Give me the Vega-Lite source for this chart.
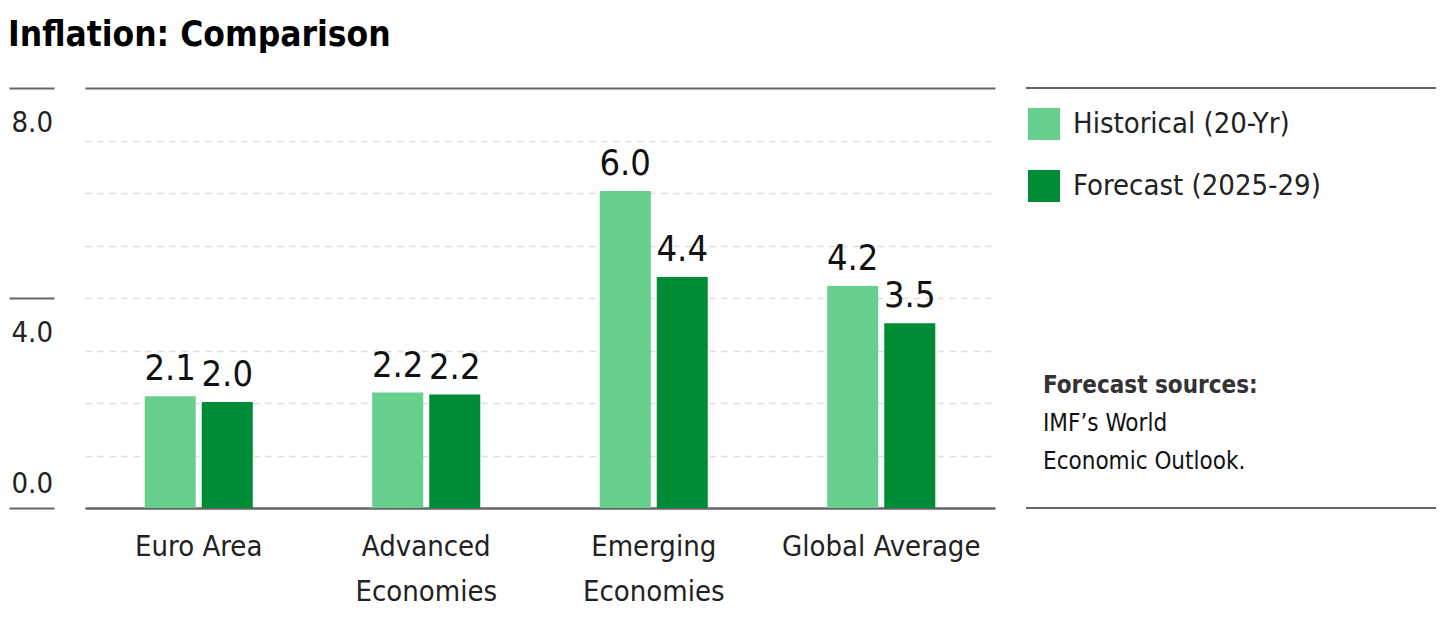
{
  "$schema": "https://vega.github.io/schema/vega-lite/v6.json",
  "padding": {"left": 8, "top": 18, "right": 0, "bottom": 0},
  "title": {
    "text": "Inflation: Comparison",
    "anchor": "start",
    "frame": "bounds",
    "fontSize": 35,
    "fontWeight": "bold",
    "color": "#000000",
    "baseline": "alphabetic",
    "offset": 6
  },
  "config": {
    "view": {"stroke": null},
    "font": "'DejaVu Sans Condensed', 'DejaVu Sans', sans-serif"
  },
  "hconcat": [
    {
      "width": 910,
      "height": 420,
      "data": {
        "values": [
          {"region": "Euro Area", "series": "Historical (20-Yr)", "value": 2.13},
          {"region": "Euro Area", "series": "Forecast (2025-29)", "value": 2.02},
          {"region": "Advanced Economies", "series": "Historical (20-Yr)", "value": 2.2},
          {"region": "Advanced Economies", "series": "Forecast (2025-29)", "value": 2.16},
          {"region": "Emerging Economies", "series": "Historical (20-Yr)", "value": 6.04},
          {"region": "Emerging Economies", "series": "Forecast (2025-29)", "value": 4.4},
          {"region": "Global Average", "series": "Historical (20-Yr)", "value": 4.23},
          {"region": "Global Average", "series": "Forecast (2025-29)", "value": 3.52}
        ]
      },
      "encoding": {
        "x": {
          "field": "region",
          "type": "nominal",
          "sort": null,
          "scale": {"paddingInner": 0.525, "paddingOuter": 0.2625},
          "axis": {
            "title": null,
            "ticks": false,
            "tickSize": 0,
            "domainColor": "#666666",
            "domainWidth": 2.5,
            "labelAngle": 0,
            "labelFontSize": 29,
            "labelColor": "#222222",
            "labelPadding": 24,
            "labelLimit": 400,
            "labelLineHeight": 45,
            "labelExpr": "indexof(datum.label, 'Economies') > 0 ? split(datum.label, ' ') : datum.label"
          }
        },
        "xOffset": {
          "field": "series",
          "type": "nominal",
          "sort": ["Historical (20-Yr)", "Forecast (2025-29)"],
          "scale": {"paddingInner": 0.105, "paddingOuter": 0}
        },
        "y": {
          "field": "value",
          "type": "quantitative",
          "scale": {"domain": [0, 8], "nice": false},
          "axis": {
            "title": null,
            "values": [0, 1, 2, 3, 4, 5, 6, 7, 8],
            "domain": false,
            "offset": 31,
            "tickSize": 45,
            "tickWidth": 2,
            "tickColor": {"condition": {"test": "datum.value % 4 === 0", "value": "#666666"}, "value": "transparent"},
            "grid": true,
            "gridColor": {"condition": {"test": "datum.value === 8", "value": "#666666"}, "value": "#dddddd"},
            "gridDash": {"condition": {"test": "datum.value === 8", "value": []}, "value": [6, 6]},
            "gridWidth": {"condition": {"test": "datum.value === 8", "value": 2}, "value": 1.5},
            "labelExpr": "datum.value % 4 === 0 ? format(datum.value, '.1f') : ''",
            "labelAlign": "left",
            "labelBaseline": "alphabetic",
            "labelPadding": -2,
            "labelOffset": {"condition": {"test": "datum.value === 0", "value": -16}, "value": 43},
            "labelFontSize": 29,
            "labelColor": "#222222",
            "labelOverlap": false,
            "labelBound": false,
            "labelFlush": false
          }
        }
      },
      "layer": [
        {
          "mark": {"type": "bar"},
          "encoding": {
            "color": {
              "field": "series",
              "type": "nominal",
              "scale": {"domain": ["Historical (20-Yr)", "Forecast (2025-29)"], "range": ["#66CF8D", "#008C36"]},
              "legend": {
                "title": null,
                "orient": "none",
                "legendX": 943,
                "legendY": 20,
                "direction": "vertical",
                "symbolType": "square",
                "symbolSize": 1024,
                "symbolStrokeWidth": 0,
                "symbolOpacity": 1,
                "labelFontSize": 29,
                "labelColor": "#222222",
                "labelOffset": 13,
                "labelLimit": 400,
                "rowPadding": 30,
                "padding": 0
              }
            }
          }
        },
        {
          "mark": {"type": "text", "baseline": "alphabetic", "dy": -16, "fontSize": 36, "color": "#111111"},
          "encoding": {
            "text": {"field": "value", "type": "quantitative", "format": ".1f"}
          }
        }
      ]
    },
    {
      "width": 410,
      "height": 420,
      "layer": [
        {
          "data": {"values": [{"edge": "top", "v": 8}, {"edge": "bottom", "v": 0}]},
          "mark": {"type": "rule", "color": "#666666", "strokeWidth": 2},
          "encoding": {
            "y": {"field": "v", "type": "quantitative", "scale": {"domain": [0, 8], "nice": false}, "axis": null}
          }
        },
        {
          "data": {
            "values": [
              {"order": 1, "line": "Forecast sources:"},
              {"order": 2, "line": "IMF’s World"},
              {"order": 3, "line": "Economic Outlook."}
            ]
          },
          "mark": {
            "type": "text",
            "align": "left",
            "baseline": "alphabetic",
            "fontSize": 24,
            "fontWeight": {"expr": "datum.order === 1 ? 'bold' : 'normal'"}
          },
          "encoding": {
            "x": {"value": 17},
            "y": {"field": "order", "type": "ordinal", "scale": {"type": "point", "range": [305, 381], "padding": 0}, "axis": null},
            "text": {"field": "line"},
            "color": {"condition": {"test": "datum.order === 1", "value": "#333333"}, "value": "#111111"}
          }
        }
      ],
      "resolve": {"scale": {"y": "independent"}}
    }
  ],
  "spacing": 30
}
